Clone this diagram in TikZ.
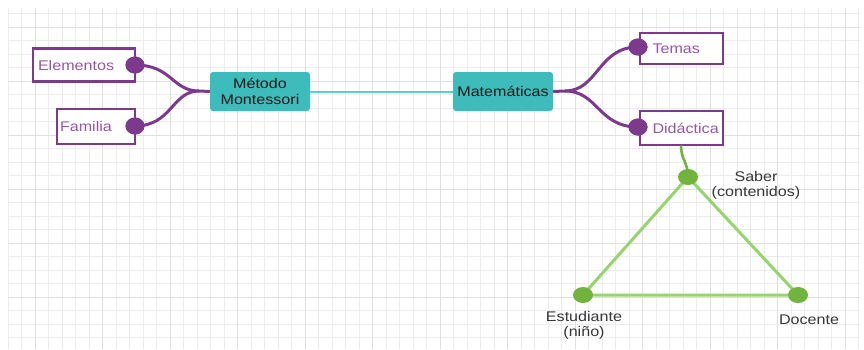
\documentclass[tikz,border=0pt]{standalone}
\usepackage{fontspec}
\setmainfont{Liberation Sans}[FakeStretch=1.15]
\usetikzlibrary{shapes.geometric}
\definecolor{purp}{RGB}{125,58,140}
\definecolor{purptext}{RGB}{150,85,170}
\definecolor{tealbox}{RGB}{62,188,188}
\definecolor{tealline}{RGB}{95,205,205}
\definecolor{greendot}{RGB}{112,180,62}
\definecolor{greenline}{RGB}{150,212,110}
\definecolor{gridminor}{RGB}{236,236,236}
\definecolor{gridmajor}{RGB}{224,224,224}
\definecolor{labgray}{RGB}{55,55,55}
\tikzset{
  txt/.style={font=\fontsize{14}{15}\selectfont},
  pbox/.style={draw=purp, line width=2.8pt, fill=white, rectangle, inner sep=0pt, txt, text=purptext, align=left},
  tbox/.style={fill=tealbox, rounded corners=3pt, rectangle, minimum width=100pt, minimum height=39pt, inner sep=0pt, txt, text=black!90, align=center, font=\fontsize{14}{16}\selectfont},
  pdot/.style={ellipse, fill=purp, minimum width=19pt, minimum height=17pt, inner sep=0pt},
  gdot/.style={ellipse, fill=greendot, minimum width=20pt, minimum height=16pt, inner sep=0pt},
  pcurve/.style={draw=purp, line width=3pt},
  gline/.style={draw=greenline, line width=3pt},
  glabel/.style={txt, text=labgray, align=center}
}
\begin{document}
\begin{tikzpicture}[x=1pt,y=-1pt]
\useasboundingbox (0,0) rectangle (864,349);
\fill[white] (0,0) rectangle (864,349);
% grid
\foreach \i in {0,...,63} {
  \draw[gridminor, line width=0.8pt] ({8+13.5*\i},8) -- ({8+13.5*\i},349);
}
\foreach \j in {0,...,25} {
  \draw[gridminor, line width=0.8pt] (8,{13.5+13.5*\j}) -- (860,{13.5+13.5*\j});
}
\foreach \i in {0,...,12} {
  \draw[gridmajor, line width=1pt] ({35+67.5*\i},8) -- ({35+67.5*\i},349);
}
\foreach \j in {0,...,5} {
  \draw[gridmajor, line width=1pt] (8,{27+54*\j}) -- (860,{27+54*\j});
}
% boxes
\node[pbox, minimum width=102pt, minimum height=33pt, text width=92pt] (elem) at (84,65) {Elementos};
\node[pbox, minimum width=78pt, minimum height=35pt, text width=72pt] (fam) at (96,126.5) {Familia};
\node[pbox, minimum width=83pt, minimum height=31pt, text width=76pt] (temas) at (681.5,48.5) {\hspace*{9pt}Temas};
\node[pbox, minimum width=83pt, minimum height=34pt, text width=76pt] (didac) at (681.5,128) {\hspace*{9pt}Didáctica};
\node[tbox] (metodo) at (260,91.5) {Método\\Montessori};
\node[tbox] (mate) at (503,91.5) {Matemáticas};
% connector junctions
\coordinate (jl) at (199,91);
\coordinate (jr) at (565,91);
% dots
\node[pdot] (delem) at (135,65) {};
\node[pdot] (dfam) at (135,126) {};
\node[pdot] (dtemas) at (638,47) {};
\node[pdot] (ddidac) at (638,127) {};
% purple curves
\draw[pcurve] (delem.center) .. controls (172,65) and (172,91) .. (jl) -- (metodo.west);
\draw[pcurve] (dfam.center) .. controls (172,126) and (172,91) .. (jl);
\draw[pcurve] (mate.east) -- (jr) .. controls (598,91) and (598,47) .. (dtemas.center);
\draw[pcurve] (jr) .. controls (598,91) and (598,127) .. (ddidac.center);
\node[pdot] at (delem) {};
\node[pdot] at (dfam) {};
\node[pdot] at (dtemas) {};
\node[pdot] at (ddidac) {};
% teal line
\draw[tealline, line width=2pt] (metodo.east) -- (mate.west);
% triangle
\coordinate (saberP) at (688,177);
\coordinate (estP) at (583,295);
\coordinate (docP) at (798,295);
\draw[gline] (saberP) -- (estP) -- (docP) -- cycle;
\draw[draw=greendot, line width=2.6pt] (681,145.5) .. controls (681,160) and (688,162) .. (saberP);
\node[gdot] (saber) at (saberP) {};
\node[gdot] (est) at (estP) {};
\node[gdot] (doc) at (docP) {};
% labels
\node[glabel] (saberL) at (756,185.5) {Saber\\(contenidos)};
\node[glabel] (estL) at (584,325.5) {Estudiante\\(niño)};
\node[glabel] (docL) at (809,320) {Docente};
\end{tikzpicture}
\end{document}
